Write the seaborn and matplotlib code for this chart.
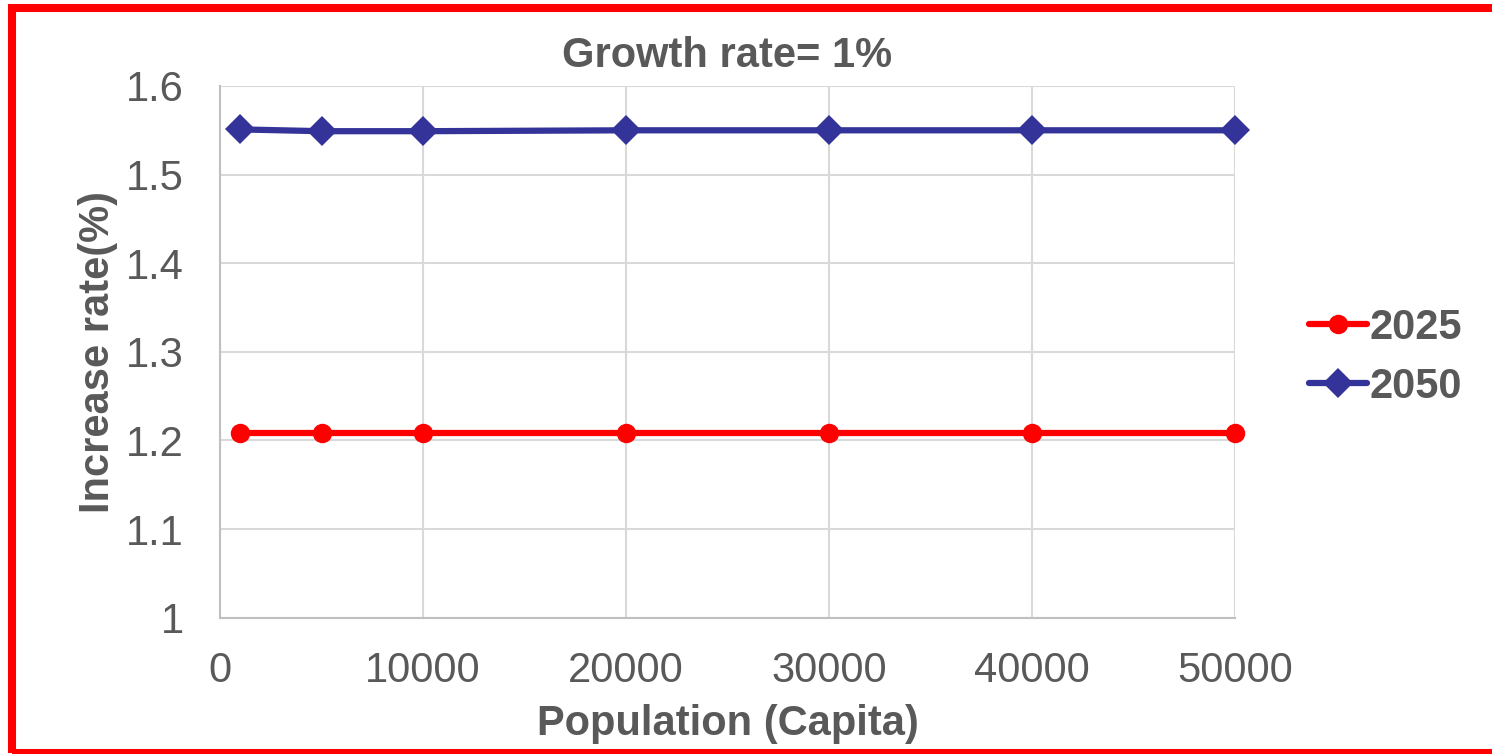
import matplotlib
matplotlib.use("Agg")
import matplotlib.pyplot as plt
import seaborn as sns
import pandas as pd
from matplotlib.patches import Rectangle

population = [1000, 5000, 10000, 20000, 30000, 40000, 50000]
rate_2025 = [1.208, 1.208, 1.208, 1.208, 1.208, 1.208, 1.208]
rate_2050 = [1.551, 1.549, 1.549, 1.550, 1.550, 1.550, 1.550]
x_ticks = [0, 10000, 20000, 30000, 40000, 50000]
y_ticks = [1, 1.1, 1.2, 1.3, 1.4, 1.5, 1.6]
y_tick_labels = ["1", "1.1", "1.2", "1.3", "1.4", "1.5", "1.6"]

sns.set_theme(style="white")
plt.rcParams['font.family'] = ['Liberation Sans', 'DejaVu Sans']

TXT = "#595959"
fig = plt.figure(figsize=(14.92, 7.54), dpi=100)
ax = fig.add_axes([220/1492, 1-617.7/754, (1235-220)/1492, (617.7-86)/754])

df25 = pd.DataFrame({"x": population, "y": rate_2025})
df50 = pd.DataFrame({"x": population, "y": rate_2050})
sns.lineplot(data=df25, x="x", y="y", ax=ax, color="#ff0000", lw=4.5,
             marker="o", markersize=14, markeredgewidth=0, label="2025", zorder=3,
             clip_on=False)
sns.lineplot(data=df50, x="x", y="y", ax=ax, color="#333399", lw=4.5,
             marker="D", markersize=15, markeredgewidth=0, label="2050", zorder=3,
             clip_on=False)

ax.set_xlim(0, 50000)
ax.set_ylim(1, 1.6)
ax.set_xticks(x_ticks)
ax.set_yticks(y_ticks)
ax.set_yticklabels(y_tick_labels)
ax.grid(True, color="#d9d9d9", lw=1.5)
for s in ["top", "right"]:
    ax.spines[s].set_visible(False)
for s in ["left", "bottom"]:
    ax.spines[s].set_color("#bfbfbf")
    ax.spines[s].set_linewidth(1.5)
ax.tick_params(axis="both", length=0, labelsize=30, labelcolor=TXT)
ax.tick_params(axis="y", pad=26)
ax.tick_params(axis="x", pad=24)

ax.set_xlabel("Population (Capita)", fontsize=30, fontweight="bold", color=TXT, labelpad=9)
ax.set_ylabel("Increase rate(%)", fontsize=30, fontweight="bold", color=TXT, labelpad=6)
ax.set_title("Growth rate= 1%", fontsize=30, fontweight="bold", color=TXT, pad=14)

leg = ax.legend(loc="center left", bbox_to_anchor=(1.036, 0.49), frameon=False,
                handlelength=1.4, handletextpad=0.05, labelspacing=0.45,
                prop={"weight": "bold", "size": 30})
for t in leg.get_texts():
    t.set_color(TXT)

border = Rectangle((12/1492, 1-753/754), 1.2, (753-8)/754, transform=fig.transFigure,
                   fill=False, edgecolor="#ff0000", lw=5.8, clip_on=False)
fig.patches.append(border)

fig.savefig("out.png", dpi=100, facecolor="white")
